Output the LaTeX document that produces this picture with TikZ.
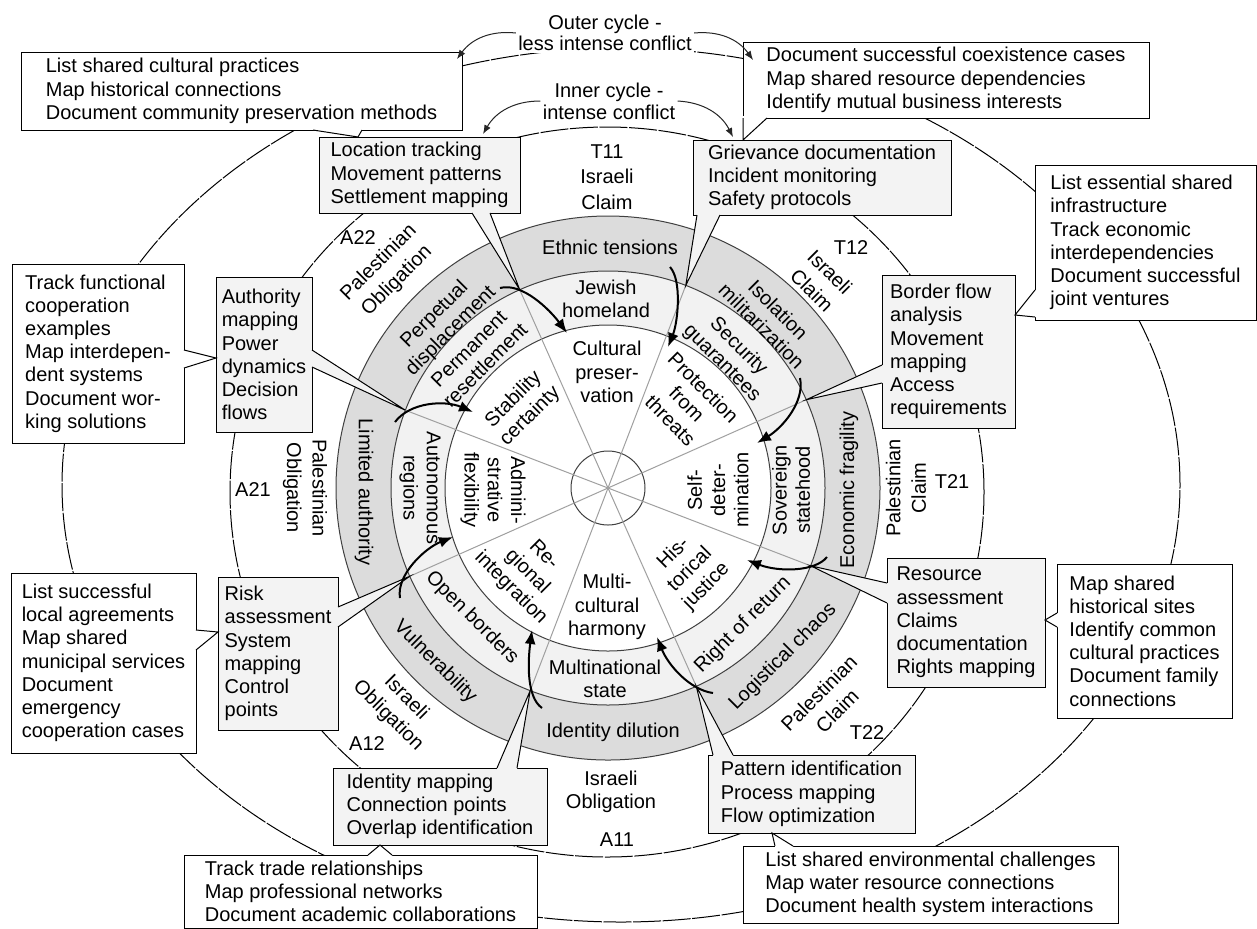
\documentclass[tikz,border=0pt]{standalone}
\usepackage{fontspec}
\setmainfont{Liberation Sans}
\usetikzlibrary{calc,arrows.meta}
\definecolor{ringgray}{RGB}{220,220,220}
\definecolor{ringlight}{RGB}{242,242,242}
\definecolor{boxgray}{RGB}{243,243,243}
\definecolor{spokegray}{RGB}{160,160,160}

% pointer of a callout: fill colour, two base points, tip, inward offset
\newcommand{\calloutptr}[5]{%
  \fill[#1] ($(#2)+(#5)$) -- (#2) -- (#4) -- (#3) -- ($(#3)+(#5)$) -- cycle;
  \draw[boxline] (#2) -- (#4) -- (#3);}

\begin{document}
\begin{tikzpicture}[x=0.5pt,y=-0.5pt,
  every node/.style={font=\fontsize{10}{11.6}\selectfont},
  lbl/.style={align=center, inner sep=0pt},
  wide/.style={font=\fontsize{10}{12.8}\selectfont},
  gbox/.style={draw=black, line width=0.5pt, fill=boxgray, align=left,
    inner sep=0pt, outer sep=0pt, anchor=north west},
  wbox/.style={gbox, fill=white},
  boxline/.style={draw=black, line width=0.5pt},
  ring/.style={draw=black!75, line width=0.5pt},
  cycleline/.style={line width=0.5pt, dash pattern=on 14pt off 0.8pt},
  flow/.style={line width=1pt, -{Latex[length=7pt,width=5.5pt]}},
  cyc/.style={line width=0.5pt, black!85, -{Latex[length=4.5pt,width=3.5pt]}},
]
\useasboundingbox[fill=white] (0,0) rectangle (1257,928);

% cycle ellipses
\coordinate (oc) at (621,485);
\coordinate (ic) at (607,492);
\draw[cycleline] (oc) ellipse [x radius=279.5pt, y radius=218.5pt];
\draw[cycleline] (ic) ellipse [x radius=188.5pt, y radius=182.5pt];

% concentric rings
\coordinate (c) at (608,488);
\draw[ring, fill=ringgray] (c) circle [radius=136pt];
\draw[ring, fill=ringlight] (c) circle [radius=108.5pt];
\draw[ring, fill=white] (c) circle [radius=81.5pt];
\draw[ring] (c) circle [radius=18.5pt];

% spokes and their end points on the outer edge of the light ring
\foreach \a in {24,69,114,159,204,249,294,339}{
  \draw[spokegray, line width=0.5pt] (c) -- ++(\a:108.5pt);
  \coordinate (t\a) at ($(c)+(\a:108.5pt)$);
}

% analysis boxes (grey)
\node[gbox, minimum width=100.5pt, minimum height=38pt] (g1) at (319,137) {Location tracking\\Movement patterns\\Settlement mapping};
\node[gbox, minimum width=129pt, minimum height=37.5pt] (g2) at (693,140) {Grievance documentation\\Incident monitoring\\Safety protocols};
\node[gbox, minimum width=66.5pt, minimum height=76.5pt] (g3) at (882,275) {Border flow\\analysis\\Movement\\mapping\\Access\\requirements};
\node[gbox, minimum width=79pt, minimum height=64.5pt] (g4) at (887,558) {Resource\\assessment\\Claims\\documentation\\Rights mapping};
\node[gbox, minimum width=103.5pt, minimum height=39pt] (g5) at (708,755) {Pattern identification\\Process mapping\\Flow optimization};
\node[gbox, minimum width=107pt, minimum height=38.5pt] (g6) at (333,768) {Identity mapping\\Connection points\\Overlap identification};
\node[gbox, minimum width=60pt, minimum height=76.5pt] (g7) at (218,577) {Risk\\assessment\\System\\mapping\\Control\\points};
\node[gbox, minimum width=48pt, minimum height=77.5pt] (g8) at (216,277) {Authority\\mapping\\Power\\dynamics\\Decision\\flows};

% cooperation boxes (white)
\node[wbox, minimum width=220.5pt, minimum height=39pt] (w1) at (21,52) {List shared cultural practices\\Map historical connections\\Document community preservation methods};
\node[wbox, minimum width=203pt, minimum height=38pt] (w2) at (743,42) {Document successful coexistence cases\\Map shared resource dependencies\\Identify mutual business interests};
\node[wbox, minimum width=110.5pt, minimum height=77.5pt] (w3) at (1035,165) {List essential shared\\infrastructure\\Track economic\\interdependencies\\Document successful\\joint ventures};
\node[wbox, minimum width=87.5pt, minimum height=77pt] (w4) at (1057,564) {Map shared\\historical sites\\Identify common\\cultural practices\\Document family\\connections};
\node[wbox, minimum width=187.5pt, minimum height=38.5pt] (w5) at (743,846) {List shared environmental challenges\\Map water resource connections\\Document health system interactions};
\node[wbox, minimum width=176.5pt, minimum height=36.5pt] (w6) at (184,855) {Track trade relationships\\Map professional networks\\Document academic collaborations};
\node[wbox, minimum width=92.5pt, minimum height=90pt] (w7) at (11,573) {List successful\\local agreements\\Map shared\\municipal services\\Document\\emergency\\cooperation cases};
\node[wbox, minimum width=86pt, minimum height=89.5pt] (w8) at (12,264) {Track functional\\cooperation\\examples\\Map interdepen-\\dent systems\\Document wor-\\king solutions};

% pointer base points
\coordinate (g1a) at ($(g1.south west)+(153,0)$); \coordinate (g1b) at ($(g1.south west)+(171,0)$);
\coordinate (g2a) at ($(g2.south west)+(4,0)$);   \coordinate (g2b) at ($(g2.south west)+(27,0)$);
\coordinate (g3a) at ($(g3.north west)+(0,90)$);  \coordinate (g3b) at ($(g3.north west)+(0,108)$);
\coordinate (g4a) at ($(g4.north west)+(0,25)$);  \coordinate (g4b) at ($(g4.north west)+(0,45)$);
\coordinate (g5a) at ($(g5.north west)+(5,0)$);   \coordinate (g5b) at ($(g5.north west)+(25,0)$);
\coordinate (g6a) at ($(g6.north west)+(164,0)$); \coordinate (g6b) at ($(g6.north west)+(184,0)$);
\coordinate (g7a) at ($(g7.north east)+(0,30)$);  \coordinate (g7b) at ($(g7.north east)+(0,50)$);
\coordinate (g8a) at ($(g8.north east)+(0,73)$);  \coordinate (g8b) at ($(g8.north east)+(0,90)$);

\coordinate (w1a) at ($(w1.south west)+(292,0)$); \coordinate (w1b) at ($(w1.south west)+(341,0)$);
\coordinate (w1t) at ($(g1.north west)+(39,0)$);
\coordinate (w2a) at (w2.south west);              \coordinate (w2b) at ($(w2.south west)+(24,0)$);
\coordinate (w2t) at ($(g2.north west)+(50,0)$);
\coordinate (w3a) at ($(w3.north west)+(0,125)$); \coordinate (w3b) at ($(w3.north west)+(0,152)$);
\coordinate (w3t) at ($(g3.north east)+(0,40)$);
\coordinate (w4a) at ($(w4.north west)+(0,49)$);  \coordinate (w4b) at ($(w4.north west)+(0,63)$);
\coordinate (w4t) at ($(g4.north east)+(0,62)$);
\coordinate (w5a) at ($(w5.north west)+(32,0)$);  \coordinate (w5b) at ($(w5.north west)+(50,0)$);
\coordinate (w5t) at ($(g5.south west)+(64,0)$);
\coordinate (w6a) at ($(w6.north west)+(184,0)$); \coordinate (w6b) at ($(w6.north west)+(208,0)$);
\coordinate (w6t) at ($(g6.south west)+(47,0)$);
\coordinate (w7a) at ($(w7.north east)+(0,57)$);  \coordinate (w7b) at ($(w7.north east)+(0,77)$);
\coordinate (w7t) at ($(g7.north west)+(0,55)$);
\coordinate (w8a) at ($(w8.north east)+(0,86)$);  \coordinate (w8b) at ($(w8.north east)+(0,104)$);
\coordinate (w8t) at ($(g8.north west)+(0,81)$);

% callout pointers
\calloutptr{boxgray}{g1a}{g1b}{t114}{0,-2}
\calloutptr{boxgray}{g2a}{g2b}{t69}{0,-2}
\calloutptr{boxgray}{g3a}{g3b}{t24}{2,0}
\calloutptr{boxgray}{g4a}{g4b}{t339}{2,0}
\calloutptr{boxgray}{g5a}{g5b}{t294}{0,2}
\calloutptr{boxgray}{g6a}{g6b}{t249}{0,2}
\calloutptr{boxgray}{g7a}{g7b}{t204}{-2,0}
\calloutptr{boxgray}{g8a}{g8b}{t159}{-2,0}
\calloutptr{white}{w1a}{w1b}{w1t}{0,-2}
\calloutptr{white}{w2a}{w2b}{w2t}{0,-2}
\calloutptr{white}{w3a}{w3b}{w3t}{2,0}
\calloutptr{white}{w4a}{w4b}{w4t}{2,0}
\calloutptr{white}{w5a}{w5b}{w5t}{0,2}
\calloutptr{white}{w6a}{w6b}{w6t}{0,2}
\calloutptr{white}{w7a}{w7b}{w7t}{-2,0}
\calloutptr{white}{w8a}{w8b}{w8t}{-2,0}

% claims and obligations around the rings
\node[lbl, wide] (t11) at (607,177) {T11\\Israeli\\Claim};
\node[lbl] (t12) at (851,248) {T12};
\node[lbl, wide, rotate=-45] (t12c) at (821,281) {Israeli\\Claim};
\node[lbl] (t21) at (952,482) {T21};
\node[lbl, wide, rotate=90] (t21c) at (906,488) {Palestinian\\Claim};
\node[lbl] (t22) at (867,732) {T22};
\node[lbl, wide, rotate=45] (t22c) at (828,702) {Palestinian\\Claim};
\node[lbl] (a11) at (617,840) {A11};
\node[lbl] (a11o) at (611,792) {Israeli\\Obligation};
\node[lbl] (a12) at (367,743) {A12};
\node[lbl, wide, rotate=-45] (a12o) at (397,707) {Israeli\\Obligation};
\node[lbl] (a21) at (253,490) {A21};
\node[lbl, wide, rotate=-90] (a21o) at (305,488) {Palestinian\\Obligation};
\node[lbl] (a22) at (358,238) {A22};
\node[lbl, wide, rotate=45] (a22o) at (388,272) {Palestinian\\Obligation};

% outer (grey) ring
\node[lbl] (r1) at (610,247) {Ethnic tensions};
\node[lbl, rotate=-45] (r2) at (770,318) {Isolation\\militarization};
\node[lbl, rotate=90] (r3) at (849,490) {Economic fragility};
\node[lbl, rotate=45] (r4) at (783,657) {Logistical chaos};
\node[lbl] (r5) at (613,732) {Identity dilution};
\node[lbl, rotate=-45] (r6) at (435,662) {Vulnerability};
\node[lbl, rotate=-90] (r7) at (364,492) {Limited authority};
\node[lbl, rotate=45] (r8) at (443,323) {Perpetual\\displacement};

% middle (light) ring
\node[lbl] (m1) at (606,299) {Jewish\\homeland};
\node[lbl, rotate=-45] (m2) at (730,355) {Security\\guarantees};
\node[lbl, rotate=90] (m3) at (791,490) {Sovereign\\statehood};
\node[lbl, rotate=45] (m4) at (743,625) {Right of return};
\node[lbl] (m5) at (605,679) {Multinational\\state};
\node[lbl, rotate=-45] (m6) at (472,618) {Open borders};
\node[lbl, rotate=-90] (m7) at (420,488) {Autonomous\\regions};
\node[lbl, rotate=45] (m8) at (477,357) {Permanent\\resettlement};

% inner disc
\node[lbl] (i1) at (607,372) {Cultural\\preser-\\vation};
\node[lbl, rotate=-45] (i2) at (687,404) {Protection\\from\\threats};
\node[lbl, rotate=90] (i3) at (718,490) {Self-\\deter-\\mination};
\node[lbl, rotate=45] (i4) at (690,570) {His-\\torical\\justice};
\node[lbl] (i5) at (607,607) {Multi-\\cultural\\harmony};
\node[lbl, rotate=-45] (i6) at (527,572) {Re-\\gional\\integration};
\node[lbl, rotate=-90] (i7) at (493,490) {Admini-\\strative\\flexibility};
\node[lbl, rotate=45] (i8) at (522,408) {Stability\\certainty};

% transitions from the grey ring into the inner disc
\coordinate (f1s) at (500,288); \coordinate (f1e) at (567,333);
\coordinate (f2s) at (670,267); \coordinate (f2e) at (668,347);
\coordinate (f3s) at (800,378); \coordinate (f3e) at (757,443);
\coordinate (f4s) at (827,557); \coordinate (f4e) at (747,560);
\coordinate (f5s) at (713,693); \coordinate (f5e) at (657,637);
\coordinate (f6s) at (542,708); \coordinate (f6e) at (532,630);
\coordinate (f7s) at (400,598); \coordinate (f7e) at (453,537);
\coordinate (f8s) at (395,422); \coordinate (f8e) at (473,412);
\draw[flow] (f1s) .. controls (522,282) and (550,310) .. (f1e);
\draw[flow] (f2s) .. controls (682,280) and (678,322) .. (f2e);
\draw[flow] (f3s) .. controls (805,402) and (782,428) .. (f3e);
\draw[flow] (f4s) .. controls (815,572) and (778,572) .. (f4e);
\draw[flow] (f5s) .. controls (690,690) and (668,665) .. (f5e);
\draw[flow] (f6s) .. controls (526,697) and (528,660) .. (f6e);
\draw[flow] (f7s) .. controls (396,575) and (425,548) .. (f7e);
\draw[flow] (f8s) .. controls (410,402) and (445,400) .. (f8e);

% cycle captions
\node[lbl, fill=white, inner sep=1pt, font=\fontsize{10}{10.8}\selectfont] (outer) at (605,33) {Outer cycle -\\less intense conflict};
\node[lbl, fill=white, inner sep=1pt, font=\fontsize{10}{11}\selectfont] (inner) at (609,101) {Inner cycle -\\intense conflict};
\coordinate (oe1) at ($(w1.north east)+(-5,7)$);
\coordinate (oe2) at ($(w2.north west)+(10,18)$);
\coordinate (ie1) at ($(g1.north west)+(164,-3)$);
\coordinate (ie2) at ($(g2.north west)+(40,-3)$);
\draw[cyc] (outer.west) to[bend right=30] (oe1);
\draw[cyc] (outer.east) to[bend left=30] (oe2);
\draw[cyc] (inner.west) to[bend right=30] (ie1);
\draw[cyc] (inner.east) to[bend left=30] (ie2);
\end{tikzpicture}
\end{document}
